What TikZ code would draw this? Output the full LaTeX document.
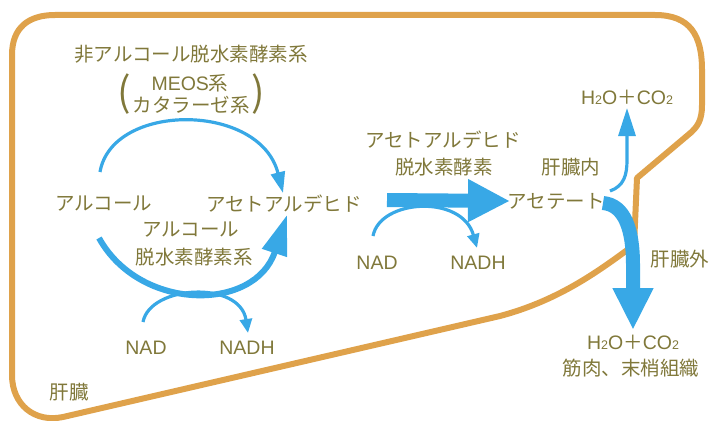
\documentclass[tikz,border=0pt]{standalone}
\usepackage{fontspec}
\setmainfont{Noto Sans CJK JP}
\newfontfamily\latfont{Liberation Sans}
\usetikzlibrary{arrows.meta}
\definecolor{txtcol}{RGB}{128,120,58}
\definecolor{bordercol}{RGB}{223,162,75}
\definecolor{arrowblue}{RGB}{56,168,230}
\newcommand\smallnum[1]{{\latfont\fontsize{12.5pt}{12.5pt}\selectfont #1}}
\newcommand\lat[1]{{\latfont #1}}
\begin{document}
\begin{tikzpicture}[x=1pt,y=-1pt,
  txt/.style={text=txtcol, inner sep=0pt, font=\fontsize{19.5pt}{22pt}\selectfont},
  parenth/.style={text=txtcol, inner sep=0pt, font=\fontsize{40pt}{40pt}\selectfont},
  border/.style={draw=bordercol, line width=6pt, line join=round},
  thinarrow/.style={draw=arrowblue, line width=3.2pt},
  thickarrow/.style={draw=arrowblue, line width=6pt},
  fatarrow/.style={draw=arrowblue, line width=14pt}]
\useasboundingbox (0,0) rectangle (711,420);

% liver outline
\draw[border] (12,375) -- (12,55) .. controls (12,28) and (28,15) .. (55,15)
  -- (655,15) .. controls (690,15) and (702,35) .. (702,70)
  -- (702,105) .. controls (702,120) and (698,127) .. (688,135)
  -- (637,178) -- (634,245) .. controls (600,270) and (560,300) .. (500,316)
  -- (63,417) .. controls (35,423) and (12,405) .. (12,375) -- cycle;

% texts
\node[txt] (nonalc) at (191,54) {非アルコール脱水素酵素系};
\node[txt] (meos) at (190,83) {\lat{MEOS}系};
\node[txt] (cat) at (191,105) {カタラーゼ系};
\node[parenth] (lp) at (124,94) {(};
\node[parenth] (rp) at (258,94) {)};
\node[txt] (alc) at (104,204) {アルコール};
\node[txt] (acald) at (284,204) {アセトアルデヒド};
\node[txt] (adh1) at (191,230) {アルコール};
\node[txt] (adh2) at (194,257) {脱水素酵素系};
\node[txt] (nad1) at (146,348) {\lat{NAD}};
\node[txt] (nadh1) at (247,348) {\lat{NADH}};
\node[txt] (liver) at (69,392) {肝臓};
\node[txt] (aldh1) at (443,140) {アセトアルデヒド};
\node[txt] (aldh2) at (444,167) {脱水素酵素};
\node[txt] (inliver) at (571,167) {肝臓内};
\node[txt] (h2o1) at (627,97) {\lat{H}\smallnum{2}\lat{O}＋\lat{CO}\smallnum{2}};
\node[txt] (acetate) at (556,201) {アセテート};
\node[txt] (nad2) at (377,263) {\lat{NAD}};
\node[txt] (nadh2) at (478,263) {\lat{NADH}};
\node[txt] (outliver) at (680,259) {肝臓外};
\node[txt] (h2o2) at (633,342) {\lat{H}\smallnum{2}\lat{O}＋\lat{CO}\smallnum{2}};
\node[txt] (muscle) at (631,368) {筋肉、末梢組織};

% connector end points
\coordinate (aS) at (100,172);
\coordinate (aE) at (283,193);
\coordinate (bS) at (99,238);
\coordinate (bE) at (287,215);
\coordinate (cS) at (143,322);
\coordinate (cE) at (248,333);
\coordinate (dS) at (387,200);
\coordinate (dE) at (510,201);
\coordinate (eS) at (373,236);
\coordinate (eE) at (477,248);
\coordinate (fS) at (610,191);
\coordinate (fE) at (627,108);
\coordinate (gS) at (603,203);
\coordinate (gE) at (633,330);

% MEOS / catalase pathway
\draw[thinarrow, -{Triangle[length=21pt,width=14pt]}] (aS) .. controls (112,102) and (260,102) .. (aE);
% ADH pathway
\draw[thickarrow, -{Triangle[length=40pt,width=25pt]}] (bS) .. controls (140,312) and (255,312) .. (bE);
\draw[thinarrow, -{Triangle[length=14pt,width=12pt]}] (cS) .. controls (150,285) and (240,280) .. (cE);
% ALDH
\draw[fatarrow, -{Triangle[length=42pt,width=40pt]}] (dS) -- (dE);
\draw[thinarrow, -{Triangle[length=14pt,width=12pt]}] (eS) .. controls (380,199) and (462,194) .. (eE);
% acetate
\draw[thinarrow, -{Triangle[length=28pt,width=17pt]}] (fS) .. controls (624,186) and (627,175) .. (627,160) -- (fE);
\draw[fatarrow, -{Triangle[length=42pt,width=38pt]}] (gS) .. controls (625,205) and (633,230) .. (633,265) -- (gE);
\end{tikzpicture}
\end{document}
